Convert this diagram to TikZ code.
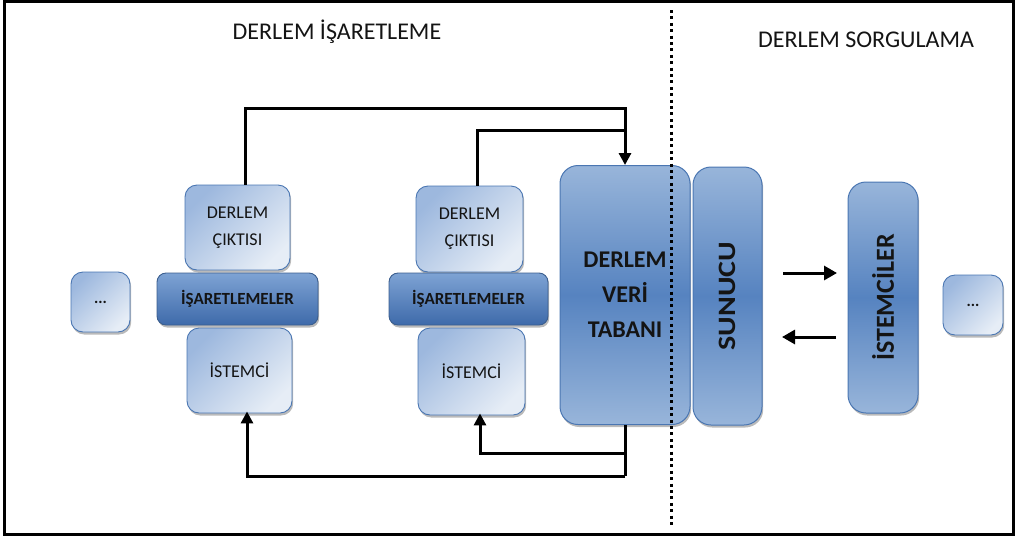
\documentclass[tikz,border=0pt]{standalone}
\usepackage{fontspec}
\setmainfont{Carlito}
\newfontfamily\stretchfont[FakeStretch=1.2]{Carlito}
\usetikzlibrary{shadows,arrows.meta}
\definecolor{edgeblue}{HTML}{4A76B2}
\definecolor{smalldark}{HTML}{9DB8DE}
\definecolor{smalllight}{HTML}{E6EDF6}
\definecolor{bartop}{HTML}{7EA3D4}
\definecolor{barbot}{HTML}{3E6AAA}
\definecolor{talllight}{HTML}{98B5DA}
\definecolor{talldark}{HTML}{5683C0}
\definecolor{txt}{HTML}{141414}
\tikzset{
  boxshadow/.style={drop shadow={shadow xshift=1.2pt,shadow yshift=-2.5pt,fill=black!60,opacity=0.45}},
  smallbox/.style={draw=edgeblue,line width=0.9pt,rounded corners=12pt,top color=smalldark,bottom color=smalllight,shading angle=45,boxshadow,inner sep=0pt,align=center,text=txt,font=\fontsize{18}{27}\selectfont},
  barbox/.style={draw=edgeblue!80!black,line width=0.9pt,rounded corners=9pt,top color=bartop,bottom color=barbot,boxshadow,inner sep=0pt,text=txt,font=\fontsize{17}{20}\selectfont\bfseries},
  tallbox/.style={draw=edgeblue,line width=1pt,rounded corners=18pt,top color=talllight,bottom color=talllight,middle color=talldark,boxshadow,inner sep=0pt,text=txt},
  conn/.style={line width=3pt,black},
  arr/.style={conn,-{Triangle[width=12pt,length=12pt]}},
  harr/.style={conn,-{Triangle[width=14pt,length=13pt]}},
  title/.style={font=\fontsize{24}{26}\selectfont,text=txt,inner sep=0pt}
}
\begin{document}
\begin{tikzpicture}[x=1pt,y=-1pt]
\useasboundingbox (0,0) rectangle (1016,536);
\draw[line width=3pt] (4.5,1.5) rectangle (1013.5,534);
% titles
\node[title] (t1) at (337,32) {DERLEM İŞARETLEME};
\node[title] (t2) at (866,40) {DERLEM SORGULAMA};
% left group
\node[smallbox,minimum width=59pt,minimum height=60pt,font=\fontsize{16}{17}\selectfont\bfseries] (ld) at (100.5,302) {...};
\node[smallbox,minimum width=105pt,minimum height=85pt] (lc) at (237.5,227.5) {DERLEM\\ÇIKTISI};
\node[smallbox,minimum width=105pt,minimum height=85pt] (li) at (239.5,370.5) {İSTEMCİ};
\node[barbox,minimum width=161pt,minimum height=52pt] (lb) at (237.5,299) {İŞARETLEMELER};
% middle group
\node[smallbox,minimum width=107pt,minimum height=86pt] (mc) at (469.5,229) {DERLEM\\ÇIKTISI};
\node[smallbox,minimum width=107pt,minimum height=87pt] (mi) at (471.5,371.5) {İSTEMCİ};
\node[barbox,minimum width=159pt,minimum height=52pt] (mb) at (468.5,299) {İŞARETLEMELER};
% tall boxes
\node[tallbox,minimum width=130pt,minimum height=259pt,align=center,font=\fontsize{24}{35}\selectfont\bfseries] (db) at (625,295) {DERLEM\\VERİ\\TABANI};
\node[tallbox,minimum width=69pt,minimum height=258pt] (sv) at (727.5,296) {};
\node[font=\stretchfont\fontsize{25}{27}\selectfont\bfseries,text=txt,rotate=90,inner sep=0pt] (svt) at (sv.center) {SUNUCU};
\node[tallbox,minimum width=70pt,minimum height=231pt] (ic) at (883,297.5) {};
\node[font=\fontsize{26}{28}\selectfont\bfseries,text=txt,rotate=90,inner sep=0pt] (ict) at (ic.center) {İSTEMCİLER};
\node[smallbox,minimum width=60pt,minimum height=60pt,font=\fontsize{16}{17}\selectfont\bfseries] (rd) at (973,305) {...};
% connectors
\coordinate (ta) at (625,108);
\coordinate (tb) at (625,130);
\coordinate (ba) at (625,476);
\coordinate (bb) at (625,453);
\draw[arr] ([xshift=8pt]lc.north) |- (ta) -- (db.north);
\draw[conn] ([xshift=8pt]mc.north) |- (tb);
\draw[conn] (db.south) -- (ba);
\draw[arr] (ba) -| ([xshift=7.5pt,yshift=2pt]li.south);
\draw[arr] (bb) -| ([xshift=8.5pt,yshift=2pt]mi.south);
\coordinate (a1s) at (783,273);
\coordinate (a1e) at (837,273);
\coordinate (a2s) at (836,337);
\coordinate (a2e) at (782,337);
\draw[harr] (a1s) -- (a1e);
\draw[harr] (a2s) -- (a2e);
% dotted divider
\coordinate (dv1) at (671,10);
\coordinate (dv2) at (671,526);
\draw[line width=3pt,dash pattern=on 3pt off 3.4pt] (dv1) -- (dv2);
\end{tikzpicture}
\end{document}
